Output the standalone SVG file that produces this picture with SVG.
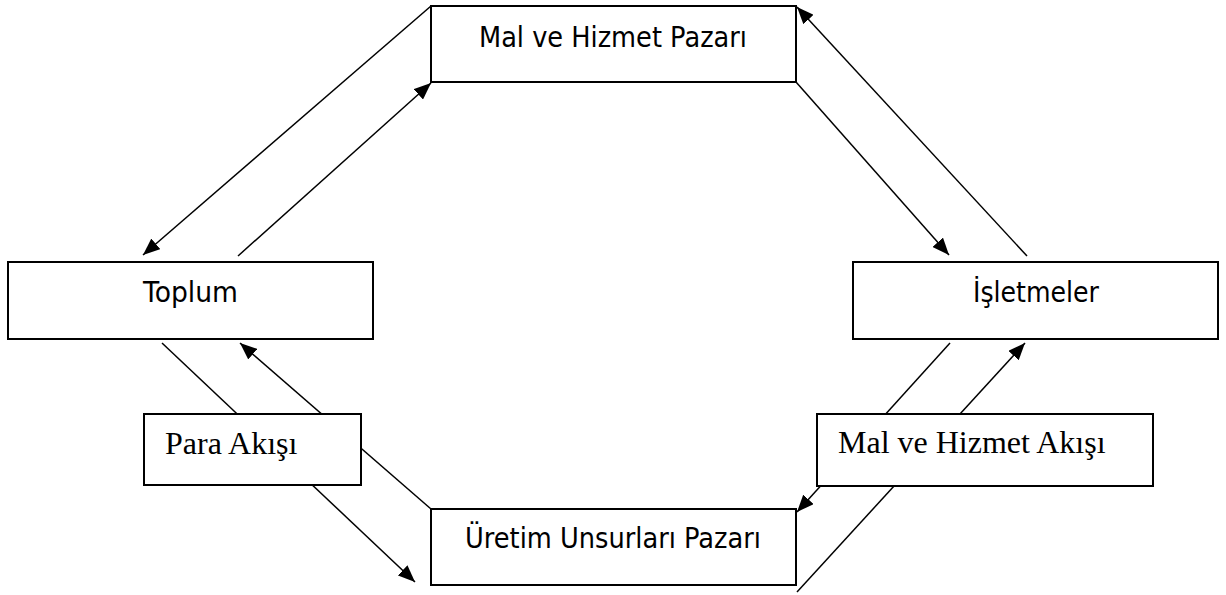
<svg xmlns="http://www.w3.org/2000/svg" width="1226" height="595" viewBox="0 0 1226 595">
<style>
.box{fill:#fff;stroke:#000;stroke-width:2}
.sans{font-family:"DejaVu Sans","Liberation Sans",sans-serif;font-size:29px;fill:#000;text-anchor:middle}
.serif{font-family:"Liberation Serif","Times New Roman",serif;font-size:32px;fill:#000}
.conn line{stroke:#000;stroke-width:1.5;fill:none}
</style>
<defs>
<marker id="arr" markerUnits="userSpaceOnUse" markerWidth="18" markerHeight="14" refX="17" refY="7" orient="auto">
<path d="M0,0 L17,7 L0,14 z" fill="#000"/>
</marker>
</defs>
<rect width="1226" height="595" fill="#fff"/>
<g id="connectors" class="conn">
<line x1="431" y1="6" x2="143" y2="255" marker-end="url(#arr)"/>
<line x1="238" y1="256" x2="431" y2="83" marker-end="url(#arr)"/>
<line x1="1027" y1="256" x2="797" y2="7" marker-end="url(#arr)"/>
<line x1="796" y1="82" x2="949" y2="255" marker-end="url(#arr)"/>
<line x1="162" y1="343" x2="415" y2="582" marker-end="url(#arr)"/>
<line x1="431" y1="509" x2="240" y2="343" marker-end="url(#arr)"/>
<line x1="950" y1="343" x2="797" y2="512" marker-end="url(#arr)"/>
<line x1="797" y1="592" x2="1025" y2="343" marker-end="url(#arr)"/>
</g>
<g id="mal-hizmet-pazari">
<rect class="box" x="431" y="6" width="365" height="76"/>
<text class="sans" x="613" y="47" textLength="268" lengthAdjust="spacingAndGlyphs">Mal ve Hizmet Pazarı</text>
</g>
<g id="toplum">
<rect class="box" x="8" y="262" width="365" height="77"/>
<text class="sans" x="190.5" y="302" textLength="95" lengthAdjust="spacingAndGlyphs">Toplum</text>
</g>
<g id="isletmeler">
<rect class="box" x="853" y="262" width="365" height="77"/>
<text class="sans" x="1036" y="302" textLength="126" lengthAdjust="spacingAndGlyphs">İşletmeler</text>
</g>
<g id="uretim-unsurlari-pazari">
<rect class="box" x="431" y="509" width="365" height="76"/>
<text class="sans" x="613" y="548" textLength="296" lengthAdjust="spacingAndGlyphs">Üretim Unsurları Pazarı</text>
</g>
<g id="para-akisi">
<rect class="box" x="144" y="414" width="217" height="71"/>
<text class="serif" x="165" y="454">Para Akışı</text>
</g>
<g id="mal-hizmet-akisi">
<rect class="box" x="817" y="414" width="336" height="72"/>
<text class="serif" x="838" y="453">Mal ve Hizmet Akışı</text>
</g>
</svg>
